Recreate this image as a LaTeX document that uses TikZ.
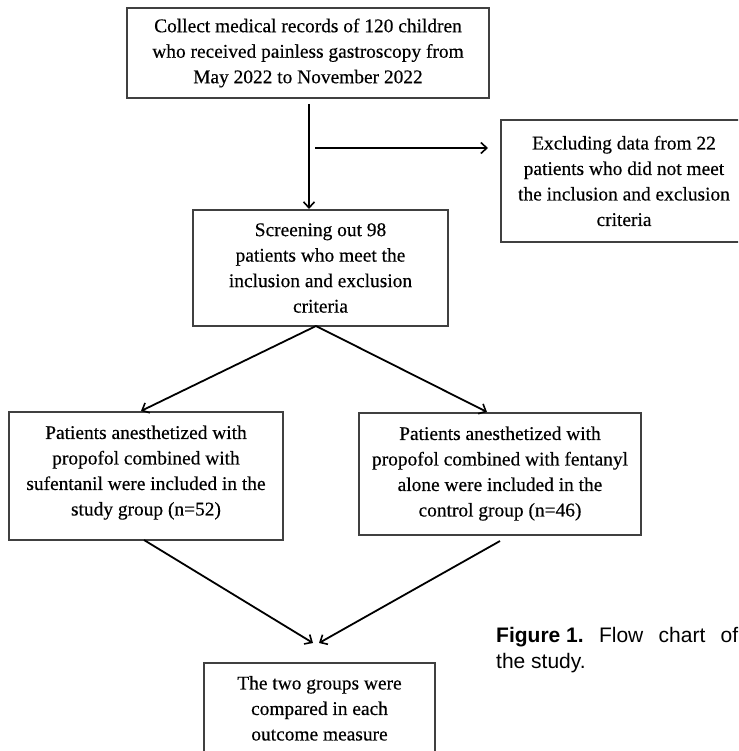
\documentclass[tikz,border=0pt]{standalone}
\usepackage{fontspec}
\setmainfont{Liberation Serif}[FakeBold=0.4]
\newfontfamily\capfont{Liberation Sans}
\usetikzlibrary{arrows.meta}
\definecolor{boxline}{gray}{0.25}
\tikzset{
  box/.style={draw=boxline, line width=1.1pt, align=center, inner sep=2pt,
    font=\fontsize{19.4}{25.5}\selectfont},
  arr/.style={draw, line width=1.8pt, -{Straight Barb[length=6pt,width=11pt,line width=1.6pt]}},
  captext/.style={anchor=base west, inner sep=0pt, font=\capfont\fontsize{21}{26}\selectfont}
}
\begin{document}
\begin{tikzpicture}[x=1pt,y=1pt]
\useasboundingbox (0,0) rectangle (738,-751);
\clip (0,0) rectangle (738,-751);
\node[box, minimum width=362pt, minimum height=90pt] (top) at (308,-53)
  {Collect medical records of 120 children\\who received painless gastroscopy from\\May 2022 to November 2022};
\node[box, minimum width=246pt, minimum height=122pt] (excl) at (624,-181)
  {Excluding data from 22\\patients who did not meet\\the inclusion and exclusion\\criteria};
\node[box, minimum width=255pt, minimum height=116pt] (screen) at (320.5,-268)
  {Screening out 98\\patients who meet the\\inclusion and exclusion\\criteria};
\node[box, minimum width=274pt, minimum height=128pt] (left) at (146,-476)
  {Patients anesthetized with\\propofol combined with\\sufentanil were included in the\\study group (n=52)\\[-14.5pt]\mbox{}};
\node[box, minimum width=282pt, minimum height=122pt] (right) at (500,-474)
  {Patients anesthetized with\\propofol combined with fentanyl\\alone were included in the\\control group (n=46)\\[-20.5pt]\mbox{}};
\node[box, minimum width=231pt, minimum height=116pt] (bottom) at (319.5,-721)
  {The two groups were\\compared in each\\outcome measure\\\mbox{}};
\coordinate (vstart) at (309,-104);
\coordinate (vend) at (309,-209);
\draw[arr] (vstart) -- (vend);
\coordinate (h1) at (315,-148);
\coordinate (h2) at (488,-148);
\draw[arr] (h1) -- (h2);
\coordinate (apex) at (316,-326);
\coordinate (lt) at (141,-411);
\coordinate (rt) at (487,-412);
\draw[arr] (apex) -- (lt);
\draw[arr] (apex) -- (rt);
\coordinate (ls) at (144,-540);
\coordinate (rs) at (500,-541);
\coordinate (m1) at (313,-643);
\coordinate (m2) at (319,-643);
\draw[arr] (ls) -- (m1);
\draw[arr] (rs) -- (m2);
\node[captext] (cap1) at (496,-642) {\hbox to 242pt{\textbf{Figure 1.}\hfil Flow\hfil chart\hfil of}};
\node[captext] (cap2) at (496,-668) {the study.};
\end{tikzpicture}
\end{document}
